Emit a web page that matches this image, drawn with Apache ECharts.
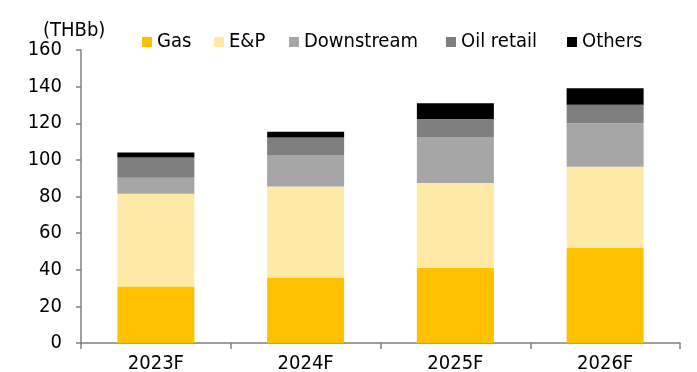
<!DOCTYPE html>
<html>
<head>
<meta charset="utf-8">
<script src="https://cdn.jsdelivr.net/npm/echarts@6/dist/echarts.min.js"></script>
<style>
html, body { margin: 0; padding: 0; background: #fff; }
#chart { width: 697px; height: 372px; }
</style>
</head>
<body>
<div id="chart"></div>
<script>
// Earnings breakdown by business unit (THB bn)
const years = ['2023F', '2024F', '2025F', '2026F'];
const gas = [30.9, 35.8, 41.1, 52.0];
const ep = [50.6, 49.6, 46.3, 44.3];
const downstream = [8.7, 17.3, 25.1, 23.7];
const oilRetail = [11.1, 9.5, 9.8, 10.1];
const others = [2.7, 3.1, 8.6, 9.0];
const yTicks = [0, 20, 40, 60, 80, 100, 120, 140, 160];

const FONT = 'DejaVu Sans Condensed';
const FS = 20;
const axisColor = '#808080';

const seriesDefs = [
  { name: 'Gas', data: gas, color: '#FFC000', legendX: 142 },
  { name: 'E&P', data: ep, color: '#FFE9A7', legendX: 214 },
  { name: 'Downstream', data: downstream, color: '#A6A6A6', legendX: 289 },
  { name: 'Oil retail', data: oilRetail, color: '#7F7F7F', legendX: 446 },
  { name: 'Others', data: others, color: '#000000', legendX: 567 }
];

// one legend entry per component so each key sits at its own spot
const legends = seriesDefs.map(s => ({
  left: s.legendX,
  top: 32,
  padding: 0,
  itemWidth: 10,
  itemHeight: 10,
  icon: 'rect',
  textStyle: { fontFamily: FONT, fontSize: FS, color: '#000' },
  data: [s.name]
}));

const chart = echarts.init(document.getElementById('chart'), null, { renderer: 'canvas' });
chart.setOption({
  animation: false,
  textStyle: { fontFamily: FONT },
  title: {
    text: '(THBb)',
    left: 38,
    top: 16,
    textStyle: { fontFamily: FONT, fontSize: FS, fontWeight: 'normal', color: '#000' }
  },
  legend: legends,
  grid: { left: 81, right: 17, top: 50, bottom: 29, containLabel: false, outerBoundsMode: 'none' },
  xAxis: {
    type: 'category',
    data: years,
    axisLine: { lineStyle: { color: axisColor, width: 1.5 } },
    axisTick: { show: true, length: 6, lineStyle: { color: axisColor, width: 1.5 } },
    axisLabel: { fontFamily: FONT, fontSize: FS, color: '#000', margin: 11 }
  },
  yAxis: {
    type: 'value',
    min: yTicks[0],
    max: yTicks[yTicks.length - 1],
    interval: yTicks[1] - yTicks[0],
    axisLine: { show: true, lineStyle: { color: axisColor, width: 1.5 } },
    axisTick: { show: true, length: 5, lineStyle: { color: axisColor, width: 1.5 } },
    splitLine: { show: false },
    axisLabel: { fontFamily: FONT, fontSize: FS, color: '#000', margin: 19 }
  },
  series: seriesDefs.map(s => ({
    name: s.name,
    type: 'bar',
    stack: 'total',
    barWidth: 77,
    data: s.data,
    itemStyle: { color: s.color }
  }))
});
</script>
</body>
</html>
